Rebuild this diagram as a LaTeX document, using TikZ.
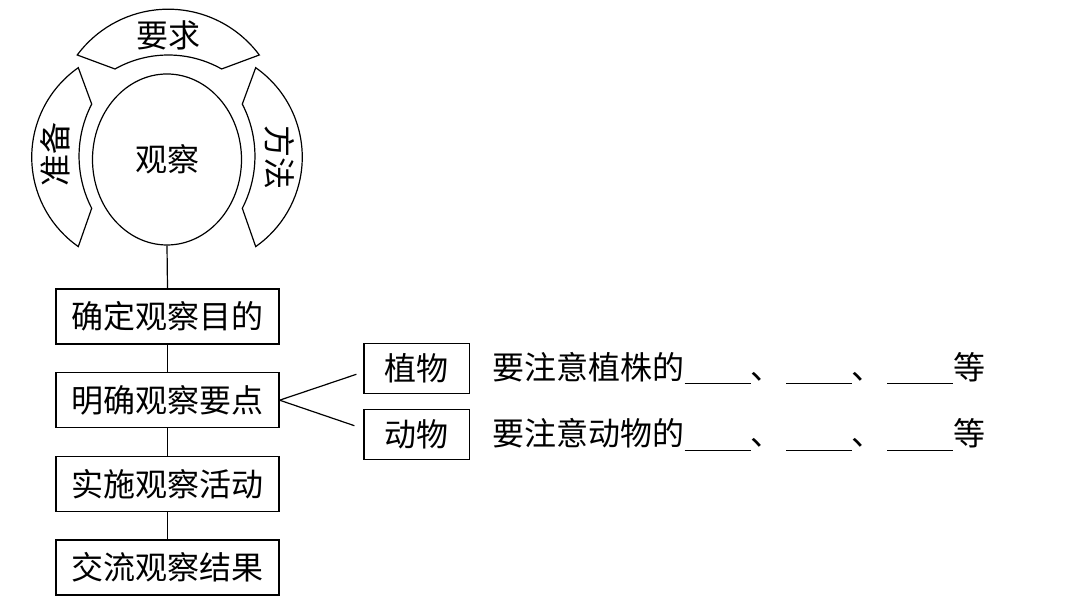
\documentclass[tikz,border=0pt]{standalone}
\usepackage{fontspec}
\newfontfamily\cjk{Noto Sans CJK SC}
\usetikzlibrary{positioning,shapes.geometric}
\newcommand{\blank}{\rule[-0.15em]{2.06em}{0.5pt}}
\newcommand{\dun}{、\kern0.11em}

\begin{document}
\begin{tikzpicture}[x=0.5pt, y=0.5pt, line width=0.6pt,
		every node/.style={font=\cjk\fontsize{16}{16}\selectfont},
		stepbox/.style={draw, minimum width=111.5pt, minimum height=27.5pt, inner sep=0pt},
		kindbox/.style={draw, minimum width=52.7pt, minimum height=25pt, inner sep=0pt}]
			\useasboundingbox (0,0) rectangle (1092,609);
			\draw (259.3,554) arc[start angle=36.6, end angle=143.4, radius=113.4] -- (115,540) arc[start angle=119.4, end angle=60.6, radius=108.6] -- cycle;
			\draw (78.3,541.3) arc[start angle=125, end angle=235, radius=109.2] -- (91.7,400.7) arc[start angle=207.3, end angle=152.7, radius=113.6] -- cycle;
			\draw (255.7,541.3) arc[start angle=55, end angle=-55, radius=109.2] -- (242.3,400.7) arc[start angle=-27.3, end angle=27.3, radius=113.6] -- cycle;
			\node (yaoqiu) at (168,574) {要求};
			\node[rotate=90] (zhunbei) at (55,454) {准备};
			\node[rotate=-90] (fangfa) at (280,451.5) {方法};
			\node[draw, ellipse, minimum width=74.5pt, minimum height=85.5pt, inner sep=0pt] (guancha) at (167,449.5) {观察};
			\node[stepbox] (step1) at (167.5,292.5) {确定观察目的};
			\node[stepbox, below=13.75pt of step1] (step2) {明确观察要点};
			\node[stepbox, below=13.75pt of step2] (step3) {实施观察活动};
			\node[stepbox, below=13.75pt of step3] (step4) {交流观察结果};
			\node[kindbox] (zhiwu) at (416.7,240.7) {植物};
			\node[kindbox] (dongwu) at (416.7,174.3) {动物};
			\node[right=11pt of zhiwu, inner sep=0pt] (zhiwuText) {要注意植株的\blank\dun\blank\dun\blank 等};
			\node[right=11pt of dongwu, inner sep=0pt] (dongwuText) {要注意动物的\blank\dun\blank\dun\blank 等};
			\draw (guancha.south) -- (step1.north);
			\draw (step1) -- (step2);
			\draw (step2) -- (step3);
			\draw (step3) -- (step4);
			\draw (step2.east) -- ([shift={(-7,-6)}]zhiwu.west);
			\draw (step2.east) -- ([shift={(-9,9)}]dongwu.west);
		\end{tikzpicture}
\end{document}
